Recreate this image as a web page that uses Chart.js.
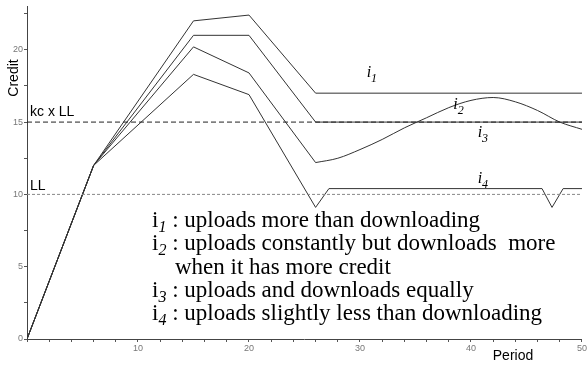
<!DOCTYPE html>
<html>
<head>
<meta charset="utf-8">
<script src="https://cdn.jsdelivr.net/npm/chart.js@4/dist/chart.umd.min.js"></script>
<style>
  html, body { margin: 0; padding: 0; background: #fff; }
  #wrap { width: 588px; height: 366px; position: relative; }
</style>
</head>
<body>
<div id="wrap"><canvas id="c" width="588" height="366"></canvas></div>
<script>
// Credit of four peer behaviours over time
const PERIOD_I1 = [0, 6, 15, 20, 26, 50];
const CREDIT_I1 = [0, 12, 22, 22.4, 17, 17];

const PERIOD_I2 = [0, 6, 15, 20, 26];
const CREDIT_I2 = [0, 12, 20.2, 18.4, 12.2];
const PERIOD_I2_WAVE = [26, 28, 30, 32, 34, 36, 38, 40, 42, 44, 46, 48, 50];
const CREDIT_I2_WAVE = [12.2, 12.5, 13.1, 13.8, 14.6, 15.3, 16.0, 16.5, 16.7, 16.4, 15.8, 15.0, 14.5];

const PERIOD_I3 = [0, 6, 15, 20, 26, 50];
const CREDIT_I3 = [0, 12, 21, 21, 15, 15];

const PERIOD_I4 = [0, 6, 15, 20, 26, 27.2, 46.4, 47.3, 48.3, 50];
const CREDIT_I4 = [0, 12, 18.3, 16.9, 9.1, 10.4, 10.4, 9.1, 10.4, 10.4];

const LL = 10;
const KC_LL = 15;
const PERIOD_RANGE = [0, 50];

const X_LABELS = [10, 20, 30, 40, 50];
const Y_LABELS = [0, 5, 10, 15, 20];

const CURVE_LABELS = [
  { sub: '1', x: 30.6, y: 18.1 },
  { sub: '2', x: 38.4, y: 15.9 },
  { sub: '3', x: 40.6, y: 14.0 },
  { sub: '4', x: 40.6, y: 10.8 }
];
const LEGEND_LINES = [
  { sub: '1', text: ' : uploads more than downloading' },
  { sub: '2', text: ' : uploads constantly but downloads  more' },
  { sub: null, text: 'when it has more credit' },
  { sub: '3', text: ' : uploads and downloads equally' },
  { sub: '4', text: ' : uploads slightly less than downloading' }
];

function pts(xs, ys) { return xs.map((x, i) => ({ x: x, y: ys[i] })); }

const LINE = '#333';
const SANS = '"Liberation Sans", Arial, sans-serif';
const SERIF = '"Liberation Serif", "Times New Roman", serif';
const curve = (data, extra) => Object.assign({
  data: data, borderColor: LINE, borderWidth: 1, pointRadius: 0,
  fill: false, tension: 0
}, extra || {});

const annotations = {
  id: 'annotations',
  afterDraw(chart) {
    const ctx = chart.ctx;
    const xs = chart.scales.x, ys = chart.scales.y;
    ctx.save();
    ctx.fillStyle = '#000';
    ctx.textBaseline = 'alphabetic';
    ctx.textAlign = 'left';

    // threshold names
    ctx.font = '14px ' + SANS;
    ctx.fillText('kc x LL', xs.getPixelForValue(0.27), ys.getPixelForValue(KC_LL + 0.4));
    ctx.fillText('LL', xs.getPixelForValue(0.27), ys.getPixelForValue(LL + 0.3));

    // axis titles
    ctx.font = '14px ' + SANS;
    ctx.textAlign = 'center';
    ctx.textBaseline = 'middle';
    ctx.fillText('Period', 513, 356);
    ctx.save();
    ctx.translate(14, 78);
    ctx.rotate(-Math.PI / 2);
    ctx.fillText('Credit', 0, 0);
    ctx.restore();

    // curve names
    ctx.textAlign = 'left';
    ctx.textBaseline = 'alphabetic';
    CURVE_LABELS.forEach(l => {
      const px = xs.getPixelForValue(l.x), py = ys.getPixelForValue(l.y);
      ctx.font = 'italic 16px ' + SERIF;
      ctx.fillText('i', px, py);
      const w = ctx.measureText('i').width;
      ctx.font = 'italic 12px ' + SERIF;
      ctx.fillText(l.sub, px + w, py + 5);
    });

    // description block
    const lx = 152, indent = 175;
    LEGEND_LINES.forEach((l, k) => {
      const by = 227 + k * 23.3;
      ctx.font = '23px ' + SERIF;
      if (l.sub) {
        ctx.fillText('i', lx, by);
        let w = ctx.measureText('i').width;
        ctx.font = 'italic 16px ' + SERIF;
        ctx.fillText(l.sub, lx + w, by + 5);
        w += ctx.measureText(l.sub).width;
        ctx.font = '23px ' + SERIF;
        ctx.fillText(l.text, lx + w, by);
      } else {
        ctx.fillText(l.text, indent, by);
      }
    });
    ctx.restore();
  }
};

new Chart(document.getElementById('c'), {
  type: 'line',
  data: {
    datasets: [
      curve(pts(PERIOD_RANGE, [KC_LL, KC_LL]), { borderColor: '#222', borderDash: [5, 3] }),
      curve(pts(PERIOD_RANGE, [LL, LL]), { borderColor: '#888', borderDash: [3, 2] }),
      curve(pts(PERIOD_I1, CREDIT_I1)),
      curve(pts(PERIOD_I2, CREDIT_I2)),
      curve(pts(PERIOD_I2_WAVE, CREDIT_I2_WAVE), { cubicInterpolationMode: 'monotone' }),
      curve(pts(PERIOD_I3, CREDIT_I3)),
      curve(pts(PERIOD_I4, CREDIT_I4))
    ]
  },
  options: {
    responsive: false,
    animation: false,
    events: [],
    layout: { padding: { top: 1, right: 5, left: 0, bottom: 0 } },
    plugins: { legend: { display: false }, tooltip: { enabled: false } },
    scales: {
      x: {
        type: 'linear', min: 0, max: 50,
        afterFit(s) { s.height = 27; },
        ticks: {
          stepSize: 2, includeBounds: false, autoSkip: false, maxRotation: 0,
          padding: 1,
          font: { family: SANS, size: 9 },
          color: '#777',
          callback: v => X_LABELS.includes(v) ? String(v) : ''
        },
        grid: { drawOnChartArea: false, tickLength: 3, color: '#555' },
        border: { color: '#444', width: 1 }
      },
      y: {
        type: 'linear', min: 0, max: 23,
        afterFit(s) { s.width = 27; },
        ticks: {
          stepSize: 2.5, includeBounds: false, autoSkip: false, padding: 1,
          font: { family: SANS, size: 9 },
          color: '#777',
          callback: v => Y_LABELS.includes(v) ? String(v) : ''
        },
        grid: { drawOnChartArea: false, tickLength: 3, color: '#555' },
        border: { color: '#444', width: 1 }
      }
    }
  },
  plugins: [annotations]
});
</script>
</body>
</html>
